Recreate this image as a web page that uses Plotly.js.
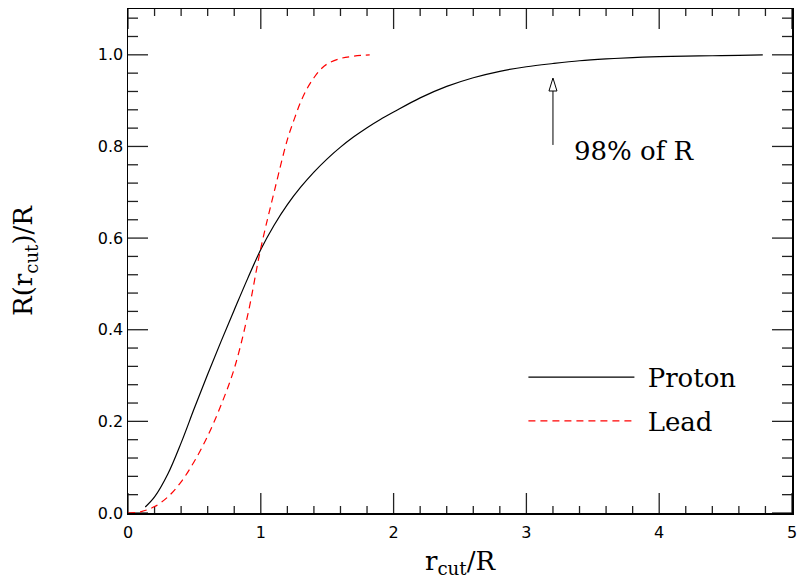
<!DOCTYPE html>
<html>
<head>
<meta charset="utf-8">
<script src="https://cdn.plot.ly/plotly-3.0.1.min.js"></script>
<style>
html,body{margin:0;padding:0;background:#fff;}
#chart{width:797px;height:579px;}
</style>
</head>
<body>
<div id="chart"></div>
<script>
// Proton curve
const protonX = [0.13,0.2,0.3,0.4,0.5,0.6,0.7,0.8,0.9,1.0,1.1,1.2,1.3,1.4,1.5,1.6,1.7,1.8,1.9,2.0,2.2,2.4,2.6,2.8,3.0,3.2,3.4,3.6,3.8,4.0,4.2,4.4,4.6,4.78];
const protonY = [0.013,0.035,0.085,0.153,0.229,0.303,0.374,0.443,0.511,0.575,0.628,0.673,0.711,0.744,0.773,0.7985,0.821,0.841,0.859,0.875,0.906,0.931,0.950,0.964,0.974,0.981,0.987,0.991,0.994,0.996,0.997,0.998,0.999,1.0];
// Lead curve
const leadX = [0,0.1,0.2,0.3,0.4,0.5,0.6,0.7,0.8,0.9,1.0,1.1,1.2,1.25,1.3,1.35,1.4,1.45,1.5,1.6,1.7,1.82];
const leadY = [0,0.003,0.014,0.035,0.068,0.113,0.168,0.235,0.315,0.43,0.578,0.70,0.815,0.858,0.897,0.927,0.950,0.968,0.980,0.992,0.997,1.0];

const seriesNames = ['Proton','Lead'];
const annotationText = '98% of R';
// annotation arrow (data coords): x, tail y, head-base y
const arrowX = 3.2, arrowTailY = 0.80, arrowHeadY = 0.921;

// axis ranges and tick positions
const xRange = [0, 5];
const yRange = [0, 1.1];
const xMajorTicks = [0,1,2,3,4,5];
const xMinorTicks = [0.2,0.4,0.6,0.8,1.2,1.4,1.6,1.8,2.2,2.4,2.6,2.8,3.2,3.4,3.6,3.8,4.2,4.4,4.6,4.8];
const yMajorTicks = [0,0.2,0.4,0.6,0.8,1.0];
const yMinorTicks = [0.04,0.08,0.12,0.16,0.24,0.28,0.32,0.36,0.44,0.48,0.52,0.56,0.64,0.68,0.72,0.76,0.84,0.88,0.92,0.96,1.04,1.08];

const W = 797, H = 579, M = {l:128, r:5, t:9, b:66};
const xPerPx = (xRange[1] - xRange[0]) / (W - M.l - M.r);
const yPerPx = (yRange[1] - yRange[0]) / (H - M.t - M.b);

// tick marks built as line segments (inside ticks on all four sides)
function tickTrace() {
  const tx = [], ty = [];
  function xt(v, len) {
    const d = len * yPerPx;
    tx.push(v, v, null, v, v, null);
    ty.push(yRange[0], yRange[0] + d, null, yRange[1], yRange[1] - d, null);
  }
  function yt(v, len) {
    const d = len * xPerPx;
    tx.push(xRange[0], xRange[0] + d, null, xRange[1], xRange[1] - d, null);
    ty.push(v, v, null, v, v, null);
  }
  xMajorTicks.forEach(v => xt(v, 20));
  xMinorTicks.forEach(v => xt(v, 7));
  yMajorTicks.forEach(v => yt(v, 20));
  yMinorTicks.forEach(v => yt(v, 10));
  return {x: tx, y: ty, type:'scatter', mode:'lines', showlegend:false, hoverinfo:'skip',
          connectgaps:false, cliponaxis:false, line:{color:'#222', width:1.3}};
}

const traces = [
  tickTrace(),
  {x: protonX, y: protonY, type:'scatter', mode:'lines', name: '\u00a0' + seriesNames[0], legendgroup:'p',
   line:{color:'#000', width:1.2, shape:'spline', smoothing:1}},
  {x: leadX, y: leadY, type:'scatter', mode:'lines', name: '\u00a0' + seriesNames[1], legendgroup:'l',
   line:{color:'#ff0000', width:1.2, dash:'7px,5px', shape:'spline', smoothing:1}}
];

const tickFont = {family:'DejaVu Sans', size:16, color:'#000'};
const titleFont = {family:'DejaVu Serif', size:26, color:'#000'};

const layout = {
  width:W, height:H,
  margin:M,
  paper_bgcolor:'#fff', plot_bgcolor:'#fff',
  showlegend:true,
  legend:{x:0.5955, y:0.316, xanchor:'left', yanchor:'top', bgcolor:'rgba(0,0,0,0)',
          font:{family:'DejaVu Serif', size:26, color:'#000'},
          itemwidth:106, traceorder:'grouped', tracegroupgap:7, borderwidth:0},
  xaxis:{range:xRange, tickvals:xMajorTicks, ticktext:xMajorTicks.map(String), showgrid:false, zeroline:false,
         showline:true, linecolor:'#000', linewidth:1.5, mirror:true, ticks:'',
         tickfont:tickFont, ticklabeloverflow:'allow', ticklabelstandoff:4,
         title:{text:'r<sub>cut</sub>/R', font:titleFont, standoff:13}},
  yaxis:{range:yRange, tickvals:yMajorTicks, ticktext:yMajorTicks.map(v => v.toFixed(1)), showgrid:false, zeroline:false,
         showline:true, linecolor:'#000', linewidth:1.5, mirror:true, ticks:'',
         tickfont:tickFont,
         title:{text:'R(r<sub>cut</sub>)/R', font:titleFont, standoff:57}},
  shapes:[
    // open triangular arrow head
    {type:'path', xref:'x', yref:'y', xsizemode:'pixel', ysizemode:'pixel',
     xanchor:arrowX, yanchor:arrowHeadY, path:'M-4,0L4,0L0,13Z',
     line:{color:'#000', width:1}, fillcolor:'#fff', layer:'above'}
  ],
  annotations:[
    {x:arrowX, y:arrowHeadY, xref:'x', yref:'y', ax:arrowX, ay:arrowTailY, axref:'x', ayref:'y',
     text:'', showarrow:true, arrowhead:0, arrowwidth:1, arrowcolor:'#000'},
    {x:3.34, y:0.79, xref:'x', yref:'y', xanchor:'left', yanchor:'middle', showarrow:false,
     text:annotationText, font:{family:'DejaVu Serif', size:26, color:'#000'}}
  ]
};

Plotly.newPlot('chart', traces, layout, {displayModeBar:false, staticPlot:true});
</script>
</body>
</html>
